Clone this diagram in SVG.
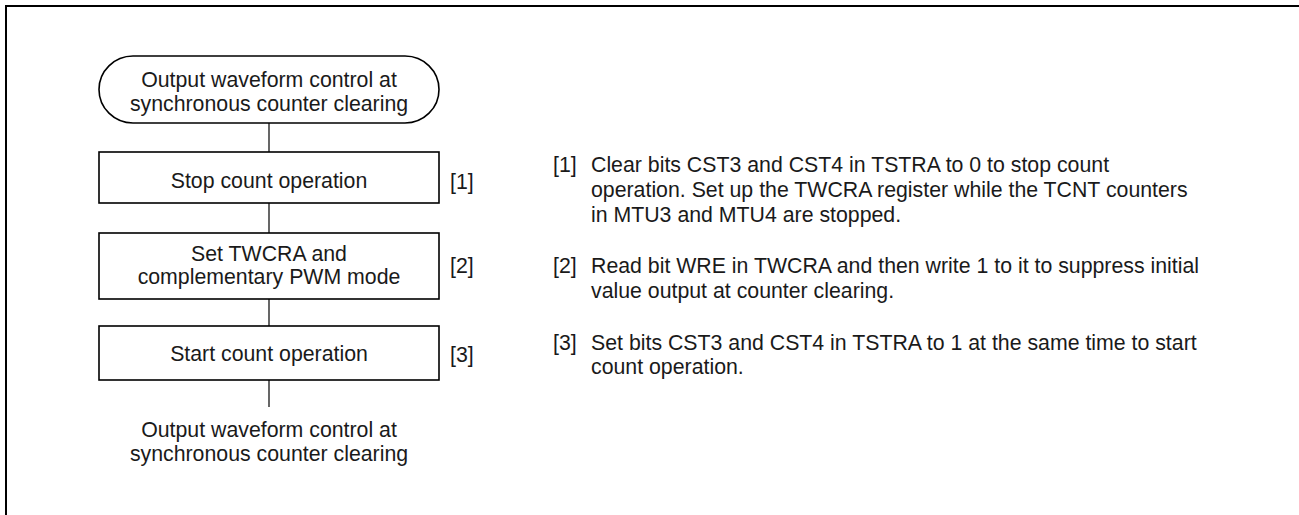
<svg xmlns="http://www.w3.org/2000/svg" width="1299" height="515" viewBox="0 0 1299 515">
<style>
.t{font-family:"Liberation Sans",Arial,sans-serif;font-size:21.3px;fill:#1a1a1a}
.c{text-anchor:middle}
.b{fill:#fff;stroke:#000;stroke-width:1.6}
.l{stroke:#000;stroke-width:1.2;fill:none}
</style>
<rect width="1299" height="515" fill="#fff"/>
<path d="M6,515 V6 H1299" fill="none" stroke="#000" stroke-width="2"/>
<g id="connectors">
<line class="l" x1="269" y1="123" x2="269" y2="152"/>
<line class="l" x1="269" y1="203" x2="269" y2="233"/>
<line class="l" x1="269" y1="299" x2="269" y2="326"/>
<line class="l" x1="269" y1="380" x2="269" y2="407"/>
</g>
<g id="start">
<rect class="b" x="99" y="56" width="340" height="67" rx="34" ry="33.5"/>
<text class="t c" x="269" y="87">Output waveform control at</text>
<text class="t c" x="269" y="111">synchronous counter clearing</text>
</g>
<g id="step1">
<rect class="b" x="99" y="152" width="340" height="51"/>
<text class="t c" x="269" y="188">Stop count operation</text>
<text class="t" x="450" y="189">[1]</text>
</g>
<g id="step2">
<rect class="b" x="99" y="233" width="340" height="66"/>
<text class="t c" x="269" y="261">Set TWCRA and</text>
<text class="t c" x="269" y="284">complementary PWM mode</text>
<text class="t" x="450" y="273">[2]</text>
</g>
<g id="step3">
<rect class="b" x="99" y="326" width="340" height="54"/>
<text class="t c" x="269" y="361">Start count operation</text>
<text class="t" x="450" y="362">[3]</text>
</g>
<g id="end">
<text class="t c" x="269" y="437">Output waveform control at</text>
<text class="t c" x="269" y="461">synchronous counter clearing</text>
</g>
<g id="notes">
<text class="t" x="553" y="172">[1]</text>
<text class="t" x="591" y="172">Clear bits CST3 and CST4 in TSTRA to 0 to stop count</text>
<text class="t" x="591" y="197">operation. Set up the TWCRA register while the TCNT counters</text>
<text class="t" x="591" y="222">in MTU3 and MTU4 are stopped.</text>
<text class="t" x="553" y="273">[2]</text>
<text class="t" x="591" y="273">Read bit WRE in TWCRA and then write 1 to it to suppress initial</text>
<text class="t" x="591" y="298">value output at counter clearing.</text>
<text class="t" x="553" y="350">[3]</text>
<text class="t" x="591" y="350">Set bits CST3 and CST4 in TSTRA to 1 at the same time to start</text>
<text class="t" x="591" y="374">count operation.</text>
</g>
</svg>
